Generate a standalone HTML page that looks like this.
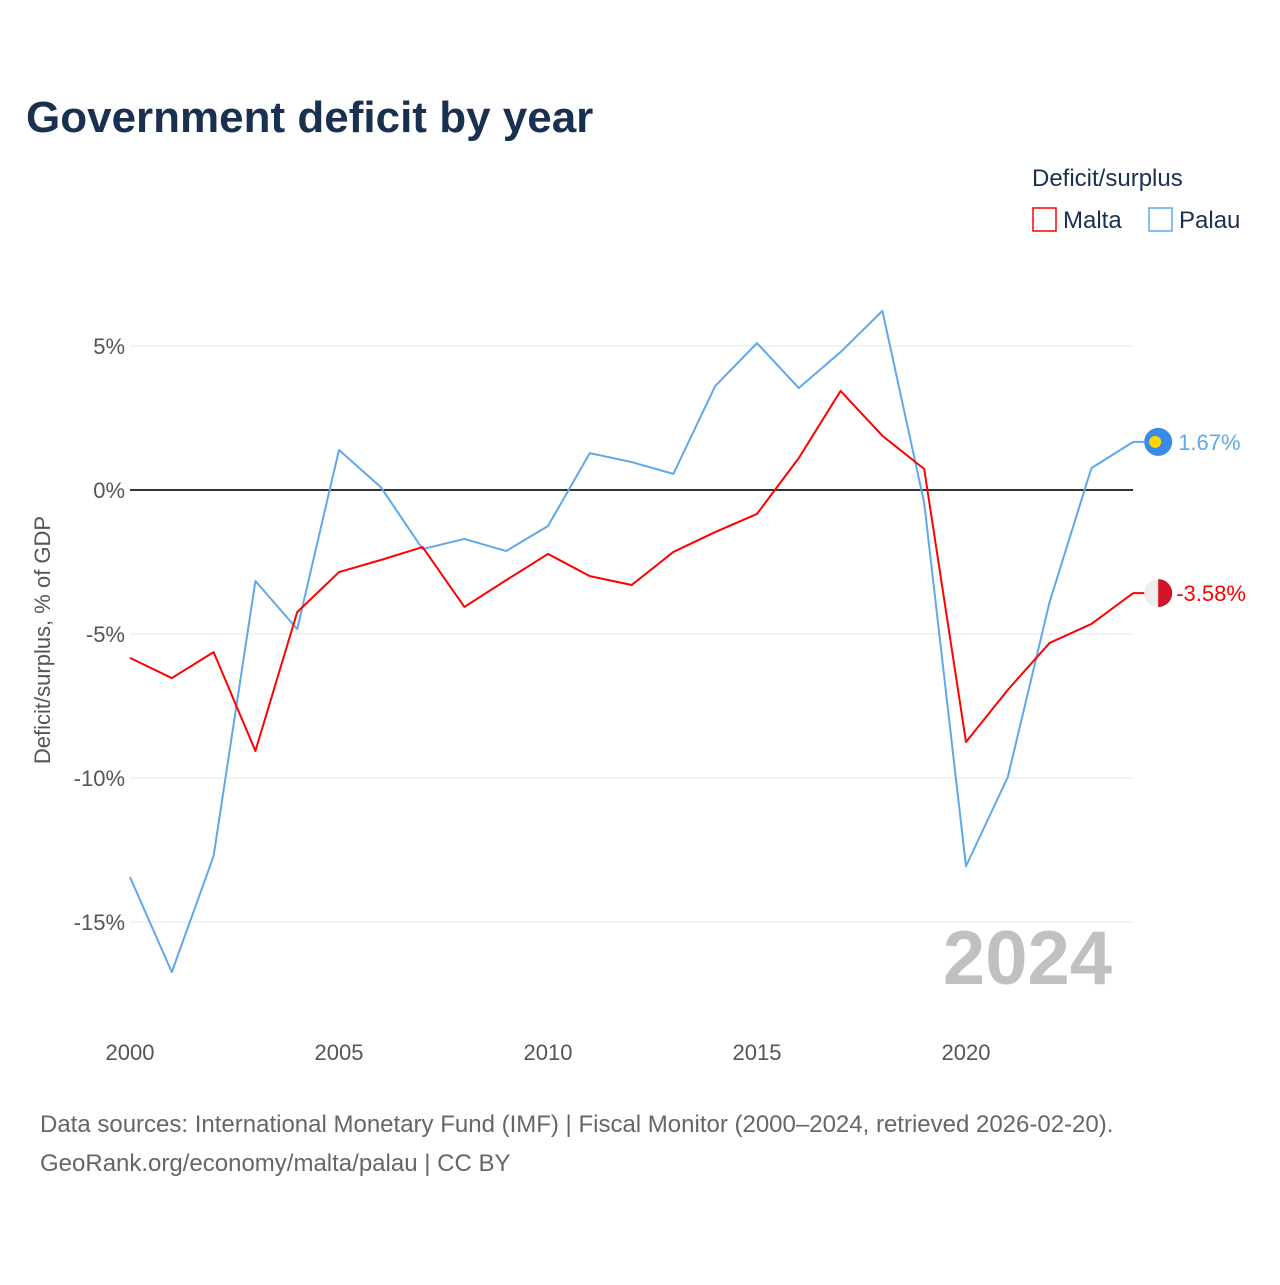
<!DOCTYPE html>
<html><head><meta charset="utf-8"><style>
body{margin:0;background:#fff;font-family:"Liberation Sans",sans-serif;}
#wrap{position:relative;width:1280px;height:1280px;}
</style></head><body>
<div id="wrap">
<svg id="chart" width="1280" height="1280" font-family="Liberation Sans, sans-serif">
<text x="26" y="132" font-size="44" font-weight="bold" fill="#1a3050">Government deficit by year</text>
<text x="1032" y="186" font-size="24" fill="#1a3050">Deficit/surplus</text>
<g><rect x="1033" y="208" width="23" height="23" fill="none" stroke="#ff0000" stroke-width="1.5"/><text x="1063" y="228" font-size="24" fill="#1a3050">Malta</text></g>
<g><rect x="1149" y="208" width="23" height="23" fill="none" stroke="#5ea8ec" stroke-width="1.5"/><text x="1179" y="228" font-size="24" fill="#1a3050">Palau</text></g>
<text transform="translate(50,640) rotate(-90)" text-anchor="middle" font-size="22" fill="#555">Deficit/surplus, % of GDP</text>
<text x="1112" y="984" text-anchor="end" font-size="76" font-weight="bold" fill="#c0c0c0">2024</text>
<g id="grid"></g><g id="yticks"></g><g id="xticks"></g><g id="series"></g>
<text x="40" y="1132" font-size="24" fill="#666">Data sources: International Monetary Fund (IMF) | Fiscal Monitor (2000–2024, retrieved 2026-02-20).</text>
<text x="40" y="1171" font-size="24" fill="#666">GeoRank.org/economy/malta/palau | CC BY</text>
</svg></div>
<script>
const years=[2000,2001,2002,2003,2004,2005,2006,2007,2008,2009,2010,2011,2012,2013,2014,2015,2016,2017,2018,2019,2020,2021,2022,2023,2024];
const malta=[-5.83,-6.53,-5.63,-9.06,-4.24,-2.85,-2.43,-1.98,-4.06,-3.13,-2.22,-2.99,-3.30,-2.15,-1.46,-0.83,1.11,3.44,1.88,0.73,-8.75,-6.94,-5.31,-4.65,-3.58];
const palau=[-13.44,-16.74,-12.71,-3.16,-4.83,1.39,0.10,-2.05,-1.70,-2.12,-1.25,1.28,0.97,0.56,3.61,5.10,3.54,4.79,6.22,-0.45,-13.06,-9.97,-3.89,0.76,1.67];
const yTicks=[5,0,-5,-10,-15];
const yTickLabels=["5%","0%","-5%","-10%","-15%"];
const xTicks=[2000,2005,2010,2015,2020];
const NS="http://www.w3.org/2000/svg";
const X=v=>130+(v-2000)*41.8;
const Y=v=>490-v*28.8;
function mk(tag,attrs,parent){const e=document.createElementNS(NS,tag);for(const k in attrs)e.setAttribute(k,attrs[k]);parent.appendChild(e);return e;}
const grid=document.getElementById('grid'),yt=document.getElementById('yticks'),xt=document.getElementById('xticks'),ser=document.getElementById('series');
yTicks.forEach((t,i)=>{
 const l=mk('line',{x1:130,x2:1133,y1:Y(t),y2:Y(t),stroke:t===0?'#333':'#e6e6e6','stroke-width':t===0?2:1},grid);
 
 
 const tx=mk('text',{x:125,y:Y(t)+8,'text-anchor':'end','font-size':22,fill:'#555'},yt);
 tx.textContent=yTickLabels[i];
 
 
});
xTicks.forEach(t=>{
 const tx=mk('text',{x:X(t),y:1060,'text-anchor':'middle','font-size':22,fill:'#555'},xt);
 tx.textContent=t;
 
 
});
function line(data,color,name){
 const p=mk('polyline',{points:data.map((v,i)=>X(years[i])+','+Y(v)).join(' '),fill:'none',stroke:color,'stroke-width':2,'stroke-linejoin':'round'},ser);
 
 
}
line(palau,'#5ea8ec','palau-line');
line(malta,'#ff0000','malta-line');
// end markers
const lp=palau[palau.length-1],lm=malta[malta.length-1],lx=X(years[years.length-1]);
const c1=mk('circle',{cx:lx+25,cy:Y(lp),r:14,fill:'#3a8ae8'},ser);


mk('circle',{cx:lx+22,cy:Y(lp),r:6,fill:'#ffd700'},ser);
mk('line',{x1:lx,x2:lx+11,y1:Y(lp),y2:Y(lp),stroke:'#5ea8ec','stroke-width':2},ser);
const t1=mk('text',{x:lx+45,y:Y(lp)+8,'font-size':22,fill:'#5ea8ec'},ser);
t1.textContent=lp.toFixed(2)+'%';


const c2=mk('circle',{cx:lx+25,cy:Y(lm),r:14,fill:'#eeeeee'},ser);


mk('path',{d:`M${lx+25},${Y(lm)-14} A14,14 0 0 1 ${lx+25},${Y(lm)+14} Z`,fill:'#cf142b'},ser);
mk('line',{x1:lx,x2:lx+11,y1:Y(lm),y2:Y(lm),stroke:'#ff0000','stroke-width':2},ser);
const t2=mk('text',{x:lx+43,y:Y(lm)+8,'font-size':22,fill:'#ff0000'},ser);
t2.textContent=lm.toFixed(2)+'%';


</script>
</body></html>
